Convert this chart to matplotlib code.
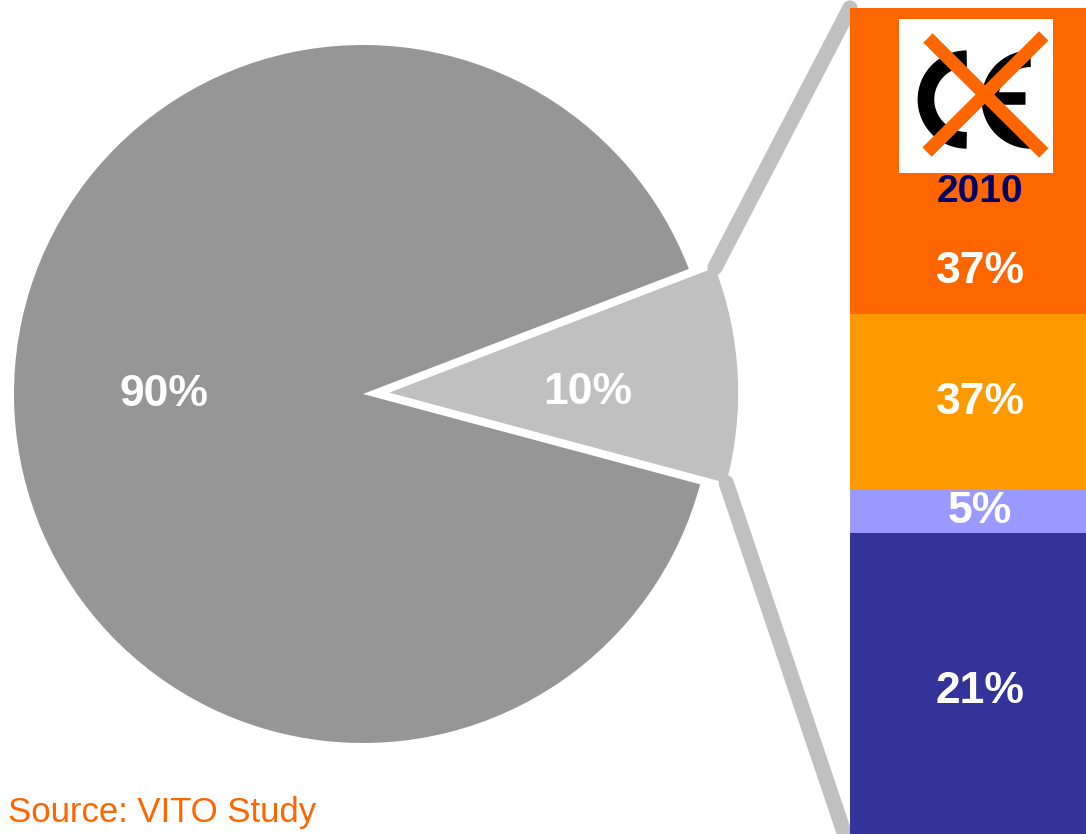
import numpy as np
import matplotlib
matplotlib.use('Agg')
import matplotlib.pyplot as plt
from matplotlib.patches import ConnectionPatch, Arc

plt.rcParams['font.family'] = ['Liberation Sans', 'DejaVu Sans']

# --------------------------------------
# data
# --------------------------------------
pie_values = [10, 90]
pie_colors = ['#c0c0c0', '#969696']

bar_labels = ['21%', '5%', '37%', '37%']          # bottom to top
bar_heights = [317, 43, 176, 306]                 # segment sizes as drawn
bar_colors = ['#333399', '#9999ff', '#ff9900', '#ff6600']

year = '2010'
source = 'Source: VITO Study'

W, H = 1086, 834
fig = plt.figure(figsize=(W / 100, H / 100), dpi=100)

# --------------------------------------
# pie
# --------------------------------------
ax1 = fig.add_axes([14 / W, 91 / H, 698 / W, 698 / H])
wedges, texts, autotexts = ax1.pie(
    pie_values, colors=pie_colors, startangle=-15, explode=[0.075, 0],
    autopct='%.0f%%', pctdistance=0.57,
    textprops=dict(color='white', fontsize=32, fontweight='bold'))
for w, t in zip(wedges, autotexts):
    w.set_clip_on(False)
    t.set_position((t.get_position()[0], w.center[1]))
ax1.set_xlim(-1, 1)
ax1.set_ylim(-1, 1)

# --------------------------------------
# stacked bar
# --------------------------------------
ax2 = fig.add_axes([850 / W, 0, 236 / W, 826 / H])
total = sum(bar_heights)
bottom = 0
for i, (h, lab, c) in enumerate(zip(bar_heights, bar_labels, bar_colors)):
    ax2.bar(0.5, h, width=1.0, bottom=bottom, color=c, linewidth=0)
    ty = bottom + h / 2 if i < len(bar_heights) - 1 else bottom + 0.14 * h
    ax2.text(0.5, ty, lab, ha='center', va='center', color='white',
             fontsize=32, fontweight='bold')
    bottom += h
ax2.text(0.5, total - 184, year, ha='center', va='center', color='#000066',
         fontsize=28, fontweight='bold')
ax2.set_xlim(0, 236 / 260)
ax2.set_ylim(total - 826, total)
ax2.axis('off')

# --------------------------------------
# connector lines wedge -> bar
# --------------------------------------
w = wedges[0]
cx, cy = w.center
t1, t2 = np.deg2rad([w.theta1, w.theta2])
top_pt = (cx + w.r * np.cos(t2), cy + w.r * np.sin(t2))
bot_pt = (cx + w.r * np.cos(t1), cy + w.r * np.sin(t1))
for bar_y, pie_pt in [(total, top_pt), (0, bot_pt)]:
    con = ConnectionPatch(xyA=(0, bar_y), coordsA=ax2.transData,
                          xyB=pie_pt, coordsB=ax1.transData,
                          color='#c0c0c0', linewidth=11, zorder=-1)
    fig.add_artist(con)

# --------------------------------------
# crossed-out CE mark
# --------------------------------------
ax3 = fig.add_axes([899 / W, 661 / H, 154 / W, 154 / H])
ax3.set_facecolor('white')
ax3.set_xlim(0, 1)
ax3.set_ylim(0, 1)
ax3.set_xticks([])
ax3.set_yticks([])
for s in ax3.spines.values():
    s.set_visible(False)
ax3.add_patch(Arc((0.44, 0.477), 0.53, 0.53, theta1=90, theta2=270,
                  linewidth=12, color='black'))
ax3.add_patch(Arc((0.855, 0.477), 0.53, 0.53, theta1=90, theta2=270,
                  linewidth=12, color='black'))
ax3.plot([0.62, 0.82], [0.49, 0.49], color='black', linewidth=9,
         solid_capstyle='butt')
ax3.plot([0.188, 0.94], [0.877, 0.13], color='#ff6600', linewidth=9.5,
         solid_capstyle='butt')
ax3.plot([0.182, 0.94], [0.136, 0.89], color='#ff6600', linewidth=9.5,
         solid_capstyle='butt')

fig.text(8 / W, 12 / H, source, color='#ff6600', fontsize=25, va='baseline')

fig.savefig('out.png', dpi=100)
